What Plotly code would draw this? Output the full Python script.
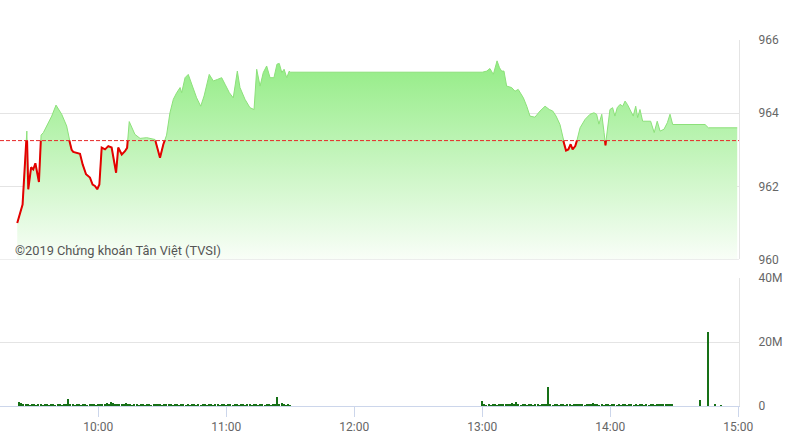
import pandas as pd
import plotly.graph_objects as go

DAY = "2019-01-02"
REF = 963.25

price_times = [
    "09:22:00", "09:24:30", "09:26:30", "09:27:10", "09:28:30", "09:29:30", "09:30:30", "09:32:10",
    "09:33:10", "09:34:15", "09:35:50", "09:38:10", "09:40:10", "09:42:50", "09:45:10", "09:46:25",
    "09:47:30", "09:48:15", "09:51:25", "09:52:40", "09:54:15", "09:56:05", "09:57:20", "09:58:25",
    "09:59:30", "10:00:30", "10:01:35", "10:03:10", "10:04:40", "10:06:15", "10:08:20", "10:09:20",
    "10:11:00", "10:12:30", "10:13:30", "10:14:30", "10:17:10", "10:19:35", "10:22:40", "10:25:00",
    "10:26:35", "10:28:55", "10:30:30", "10:32:00", "10:33:35", "10:35:10", "10:36:45", "10:38:20",
    "10:39:05", "10:40:40", "10:42:10", "10:43:45", "10:46:05", "10:48:00", "10:49:35", "10:52:00",
    "10:53:55", "10:55:45", "10:57:50", "10:59:25", "11:01:25", "11:03:15", "11:05:10", "11:06:25",
    "11:08:45", "11:11:05", "11:13:00", "11:14:15", "11:15:50", "11:17:20", "11:18:55", "11:20:30",
    "11:22:20", "11:23:45", "11:24:50", "11:26:00", "11:27:05", "11:28:20", "11:29:30", "11:30:00",
    "13:00:00", "13:02:05", "13:03:35", "13:05:10", "13:06:55", "13:08:05", "13:09:05", "13:10:10",
    "13:11:25", "13:13:45", "13:15:20", "13:16:50", "13:19:15", "13:20:50", "13:22:20", "13:24:40",
    "13:27:05", "13:29:25", "13:31:25", "13:33:00", "13:34:35", "13:36:25", "13:38:00", "13:39:15",
    "13:40:20", "13:41:25", "13:42:20", "13:43:35", "13:44:30", "13:45:50", "13:48:10", "13:50:30",
    "13:52:20", "13:53:35", "13:54:40", "13:56:00", "13:57:05", "13:57:45", "13:58:45", "13:59:50",
    "14:01:05", "14:02:10", "14:03:15", "14:04:35", "14:05:50", "14:06:55", "14:08:00", "14:09:35",
    "14:10:45", "14:11:55", "14:12:50", "14:13:55", "14:15:10", "14:18:55", "14:20:35", "14:22:00",
    "14:23:20", "14:25:10", "14:26:45", "14:28:00", "14:29:15", "14:44:25", "14:46:00", "14:59:30",
]
price_values = [
    961.00, 961.50, 963.51, 961.92, 962.52, 962.46, 962.63, 962.12,
    963.40, 963.47, 963.65, 963.92, 964.22, 963.97, 963.65, 963.25,
    963.00, 962.94, 962.89, 962.60, 962.33, 962.24, 962.05, 962.01,
    961.92, 962.05, 963.06, 963.01, 963.10, 963.06, 962.37, 963.06,
    962.87, 962.96, 963.05, 963.77, 963.42, 963.31, 963.33, 963.31,
    963.28, 962.78, 963.15, 963.40, 964.01, 964.38, 964.56, 964.70,
    964.56, 964.97, 965.06, 964.79, 964.42, 964.19, 964.47, 965.06,
    964.88, 964.92, 964.97, 964.79, 964.56, 964.42, 965.15, 964.70,
    964.38, 964.15, 964.10, 965.20, 964.74, 965.11, 965.29, 964.97,
    964.97, 965.34, 965.36, 965.11, 965.20, 964.97, 965.15, 965.12,
    965.12, 965.15, 965.22, 965.06, 965.43, 965.24, 965.15, 965.15,
    964.74, 964.70, 964.60, 964.65, 964.42, 964.19, 963.92, 963.89,
    964.06, 964.19, 964.10, 964.06, 963.92, 963.69, 963.24, 962.98,
    963.01, 963.15, 963.01, 963.10, 963.28, 963.60, 963.83, 963.97,
    964.01, 963.97, 963.70, 963.97, 963.47, 963.12, 963.65, 964.10,
    964.15, 963.92, 964.15, 964.24, 964.19, 964.33, 964.24, 964.06,
    963.92, 964.19, 963.88, 964.10, 963.78, 963.78, 963.47, 963.78,
    963.51, 963.56, 963.74, 963.97, 963.69, 963.69, 963.60, 963.60,
]

# volume (millions), one bar per minute
vol_morning_start = "09:23"
vol_morning = [
    1.3, 0.8, 0.5, 0.4, 0.6, 0.3, 0.5, 0.4, 0.3, 0.5,
    0.4, 0.3, 0.5, 0.4, 0.3, 0.4, 0.6, 0.3, 0.4, 0.5,
    0.3, 0.4, 0.6, 2.2, 0.5, 0.4, 0.3, 0.5, 0.4, 0.3,
    0.4, 0.5, 0.3, 0.4, 0.6, 0.4, 0.3, 0.5, 0.4, 0.6,
    0.5, 1.0, 0.4, 1.2, 0.9, 0.5, 0.4, 0.7, 0.5, 0.4,
    1.0, 0.5, 0.4, 0.3, 0.5, 0.4, 0.3, 0.6, 0.4, 0.3,
    0.5, 0.4, 0.3, 0.4, 0.6, 0.5, 0.4, 0.3, 0.5, 0.4,
    0.6, 0.4, 0.3, 0.5, 0.4, 0.3, 0.4, 0.5, 0.3, 0.4,
    0.3, 0.5, 0.4, 0.3, 0.4, 0.3, 0.5, 0.4, 0.3, 0.4,
    0.4, 0.3, 0.5, 0.4, 0.3, 0.6, 0.4, 0.3, 0.4, 0.5,
    0.3, 0.4, 0.5, 0.3, 0.7, 0.4, 0.3, 0.5, 0.4, 0.3,
    0.4, 0.6, 0.3, 0.4, 0.5, 0.3, 0.4, 0.6, 0.3, 0.4,
    0.5, 2.9, 0.4, 0.8, 0.5, 0.3, 0.4, 0.3,
]
vol_afternoon_start = "13:00"
vol_afternoon = [
    1.6, 0.4, 0.3, 0.4, 0.3, 0.5, 0.4, 0.3, 0.5, 0.7,
    0.4, 0.5, 0.6, 0.7, 1.0, 0.5, 1.35, 0.4, 0.3, 0.5,
    0.4, 0.3, 0.5, 0.4, 0.3, 0.4, 0.5, 0.3, 0.4, 0.6,
    0.5, 6.0, 0.4, 0.3, 0.5, 0.4, 0.3, 0.4, 0.5, 0.3,
    0.4, 0.5, 0.3, 0.4, 0.6, 0.4, 0.5, 0.4, 0.3, 0.7,
    0.5, 0.4, 1.0, 0.4, 0.5, 0.3, 0.4, 0.3, 0.5, 0.4,
    0.3, 0.4, 0.5, 0.3, 0.4, 0.3, 0.5, 0.4, 0.3, 0.4,
    0.5, 0.3, 0.4, 0.3, 0.4, 0.5, 0.3, 0.4, 0.3, 0.5,
    0.4, 0.3, 0.5, 0.4, 0.6, 0.4, 0.7, 0.5, 0.6, 0.7,
]
vol_close_times = ["14:42", "14:46", "14:49", "14:52"]
vol_close = [1.9, 23.0, 0.4, 0.3]

x_tick_labels = ["10:00", "11:00", "12:00", "13:00", "14:00", "15:00"]
price_ticks = [960, 962, 964, 966]
vol_ticks = [0, 20, 40]
vol_tick_labels = ["0", "20M", "40M"]
watermark = "©2019 Chứng khoán Tân Việt (TVSI)"

# ---------------------------------------------------------------
pt = pd.to_datetime([f"{DAY} {s}" for s in price_times])

# split line into above/below reference for colouring
xs, ys = [pt[0]], [price_values[0]]
for i in range(1, len(price_values)):
    p0, p1 = price_values[i - 1], price_values[i]
    if (p0 - REF) * (p1 - REF) < 0:
        f = (REF - p0) / (p1 - p0)
        xs.append(pt[i - 1] + (pt[i] - pt[i - 1]) * f)
        ys.append(REF)
    xs.append(pt[i])
    ys.append(p1)
red_y = [y if y <= REF + 1e-9 else None for y in ys]

vm_t = pd.date_range(f"{DAY} {vol_morning_start}", periods=len(vol_morning), freq="min")
va_t = pd.date_range(f"{DAY} {vol_afternoon_start}", periods=len(vol_afternoon), freq="min")
vc_t = pd.to_datetime([f"{DAY} {s}" for s in vol_close_times])
vol_t = list(vm_t) + list(va_t) + list(vc_t)
vol_v = [v * 1e6 for v in vol_morning + vol_afternoon + vol_close]

fig = go.Figure()
fig.add_trace(go.Scatter(
    x=xs, y=ys, mode="lines", fill="tozeroy",
    line=dict(color="rgb(140,224,122)", width=1),
    fillgradient=dict(type="vertical", start=960, stop=965.5,
                      colorscale=[[0, "rgb(249,254,248)"], [1, "rgb(146,236,132)"]]),
    xaxis="x", yaxis="y", hoverinfo="skip", showlegend=False,
))
fig.add_trace(go.Scatter(
    x=xs, y=red_y, mode="lines", line=dict(color="rgb(228,0,0)", width=2),
    xaxis="x", yaxis="y", hoverinfo="skip", showlegend=False, connectgaps=False,
))
fig.add_trace(go.Bar(
    x=vol_t, y=vol_v, width=38000, marker=dict(color="rgb(22,112,22)", line=dict(width=0)),
    xaxis="x2", yaxis="y2", showlegend=False,
))

grid = "#e4e4e4"
font_col = "#666666"

fig.add_shape(type="line", xref="x domain", yref="y", x0=0, x1=1, y0=REF, y1=REF,
              line=dict(color="rgb(230,40,40)", width=1, dash="4px,2px"), layer="above")
fig.add_shape(type="line", xref="x domain", yref="y", x0=0, x1=1, y0=960, y1=960,
              line=dict(color="#dcdcdc", width=1), layer="above")

x_range = [f"{DAY} 09:13:55", f"{DAY} 15:00:20"]
tickvals = [f"{DAY} {s}" for s in x_tick_labels]

fig.update_layout(
    width=794, height=446,
    margin=dict(l=0, r=55, t=40, b=40),
    paper_bgcolor="white", plot_bgcolor="white",
    font=dict(family="Roboto, Arial, sans-serif", size=12, color=font_col),
    bargap=0,
    xaxis=dict(domain=[0, 1], anchor="y", type="date", range=x_range, matches="x2",
               showticklabels=False, showgrid=False, zeroline=False, showline=False, ticks=""),
    yaxis=dict(domain=[0.4003, 1], anchor="x", side="right", range=[960, 966],
               tickvals=price_ticks, showgrid=True, gridcolor=grid, zeroline=False,
               showline=True, linecolor=grid, ticks="", ticklabelstandoff=16,
               tickfont=dict(size=12, color=font_col)),
    xaxis2=dict(domain=[0, 1], anchor="y2", type="date", range=x_range,
                tickvals=tickvals, ticktext=x_tick_labels, showgrid=False, zeroline=False,
                showline=True, linecolor="#ccd6eb", ticks="outside", ticklen=10,
                tickcolor="#ccd6eb", tickfont=dict(size=12, color=font_col)),
    yaxis2=dict(domain=[0, 0.3497], anchor="x2", side="right", range=[0, 40e6],
                tickvals=[v * 1e6 for v in vol_ticks], ticktext=vol_tick_labels,
                showgrid=True, gridcolor=grid, zeroline=False, showline=True, linecolor=grid,
                ticks="", ticklabelstandoff=16, tickfont=dict(size=12, color=font_col)),
    annotations=[dict(text=watermark, xref="paper", yref="paper", x=13 / 739, y=0.426,
                      xanchor="left", yanchor="middle", showarrow=False,
                      font=dict(size=12.8, color="#555555", family="Roboto, Arial, sans-serif"))],
)

fig.write_html("out.html", config={"displayModeBar": False},
               post_script="document.body.style.margin='0';document.body.style.padding='0';")
